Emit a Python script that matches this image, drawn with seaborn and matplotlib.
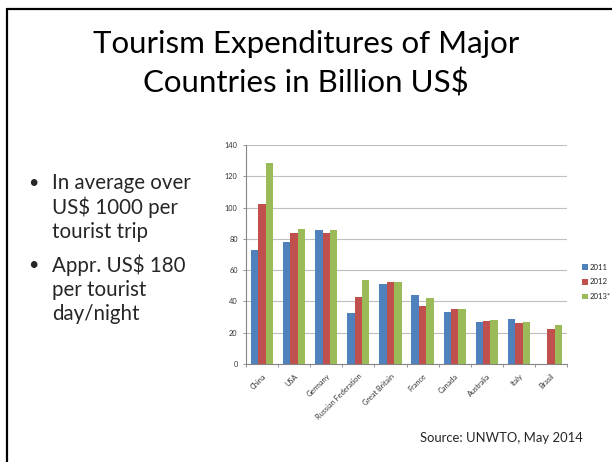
import numpy as np
import pandas as pd
import matplotlib
matplotlib.use("Agg")
import matplotlib.pyplot as plt
from matplotlib.lines import Line2D
from matplotlib.patches import Patch
import seaborn as sns

# Tourism expenditure in billion US$
countries = ["China", "USA", "Germany", "Russian Federation", "Great Britain",
             "France", "Canada", "Australia", "Italy", "Brasil"]
years = ["2011", "2012", "2013*"]
values_2011 = [72.6, 78.2, 85.9, 32.9, 51.0, 44.1, 33.3, 26.7, 28.8, np.nan]
values_2012 = [102.0, 83.5, 83.8, 42.8, 52.3, 37.2, 35.0, 27.6, 26.3, 22.2]
values_2013 = [128.6, 86.2, 85.9, 53.5, 52.6, 42.4, 35.2, 28.3, 27.0, 25.1]
y_ticks = [0, 20, 40, 60, 80, 100, 120, 140]

title_lines = ["Tourism Expenditures of Major", "Countries in Billion US$"]
bullets = [["In average over", "US$ 1000 per", "tourist trip"],
           ["Appr. US$ 180", "per tourist", "day/night"]]
source_text = "Source: UNWTO, May 2014"

palette = ["#4F81BD", "#C0504D", "#9BBB59"]

df = pd.DataFrame({
    "country": countries * 3,
    "year": [y for y in years for _ in countries],
    "value": values_2011 + values_2012 + values_2013,
})

sns.set_theme(style="white")
plt.rcParams["font.family"] = ["Lato", "DejaVu Sans"]

W, H = 612, 462
fig = plt.figure(figsize=(W / 100, H / 100), dpi=100)
fig.patch.set_facecolor("white")

def fx(px):
    return px / W

def fy(py):
    return 1 - py / H

ax = fig.add_axes([fx(246), fy(364), fx(567) - fx(246), fy(145) - fy(364)])
sns.barplot(data=df, x="country", y="value", hue="year", order=countries,
            hue_order=years, palette=palette, width=0.69, saturation=1,
            errorbar=None, ax=ax, legend=False, linewidth=0)

ax.set_ylim(0, 140)
ax.set_xlim(-0.5, len(countries) - 0.5)
ax.set_yticks(y_ticks)
ax.set_yticklabels([str(t) for t in y_ticks])
ax.set_xlabel("")
ax.set_ylabel("")
ax.yaxis.grid(True, color="#BEBEBE", linewidth=0.8)
ax.set_axisbelow(True)
for side in ["top", "right"]:
    ax.spines[side].set_visible(False)
ax.spines["left"].set_color("#868686")
ax.spines["bottom"].set_color("#868686")
ax.spines["left"].set_linewidth(0.8)
ax.spines["bottom"].set_linewidth(0.8)

ax.tick_params(axis="y", which="both", length=2.5, width=0.6, color="#868686",
               labelsize=5.3, pad=3.5, left=True, direction="out",
               labelcolor="#333333")
ax.set_xticks(np.arange(len(countries)))
ax.set_xticklabels(countries, rotation=45, ha="right", rotation_mode="anchor",
                   fontsize=5.3, color="#333333")
ax.tick_params(axis="x", which="major", length=0, pad=6)
ax.set_xticks(np.arange(len(countries) + 1) - 0.5, minor=True)
ax.tick_params(axis="x", which="minor", length=2.5, width=0.6, color="#868686",
               bottom=True, direction="out")

handles = [Patch(facecolor=c, edgecolor="none") for c in palette]
fig.legend(handles, years, loc="center left",
           bbox_to_anchor=(fx(578), fy(282)), frameon=False, fontsize=5.6,
           handlelength=0.75, handleheight=0.75, handletextpad=0.25,
           labelspacing=1.0, borderpad=0, labelcolor="#222222")

# Slide title
fig.text(0.5, fy(44), title_lines[0], ha="center", va="center", fontsize=22.5,
         color="black")
fig.text(0.5, fy(83), title_lines[1], ha="center", va="center", fontsize=22.5,
         color="black")

# Bullet points
y0 = 183
for group in bullets:
    fig.text(fx(33), fy(y0), "\u2022", ha="center", va="center", fontsize=13)
    for line in group:
        fig.text(fx(52), fy(y0), line, ha="left", va="center", fontsize=14.8)
        y0 += 24.5
    y0 += 8.5

fig.text(fx(583), fy(438), source_text, ha="right", va="center", fontsize=9.4)

# Slide frame
fig.add_artist(Line2D([fx(6.5), 1], [fy(8.5), fy(8.5)], color="black",
                      linewidth=1.6, transform=fig.transFigure))
fig.add_artist(Line2D([fx(6.5), fx(6.5)], [fy(8.5), 0], color="black",
                      linewidth=1.6, transform=fig.transFigure))

fig.savefig("out.png", dpi=100, facecolor="white")
